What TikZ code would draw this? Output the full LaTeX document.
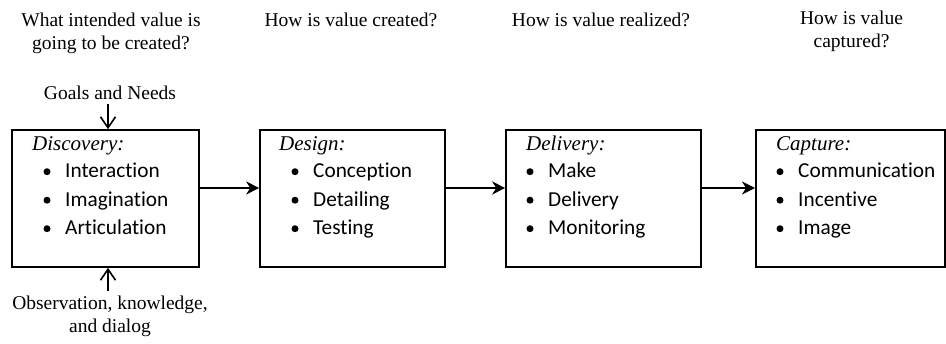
\documentclass[tikz,border=0pt]{standalone}
\usepackage{fontspec}
\setmainfont{Liberation Serif}
\newfontfamily\calib[RawFeature={-liga,-dlig,-clig}]{Carlito}
\usetikzlibrary{arrows.meta}
\tikzset{
  box/.style={draw, line width=1.6pt, inner sep=0pt, minimum height=137pt},
  harrow/.style={line width=1.6pt, -{Stealth[length=13pt,width=13pt,inset=4pt]}},
  varrow/.style={line width=1.6pt, -{Straight Barb[length=11pt,width=15pt,line width=1.6pt]}},
  qtext/.style={font=\fontsize{19.5}{23.5}\selectfont, align=center, inner sep=0pt, anchor=base},
  ttl/.style={font=\fontsize{21}{24}\selectfont\itshape, inner sep=0pt, anchor=base west},
  itm/.style={font=\calib\fontsize{21.3}{24}\selectfont, inner sep=0pt, anchor=base west},
  bul/.style={circle, fill, inner sep=0pt, minimum size=7pt},
}
\begin{document}
\begin{tikzpicture}[x=1pt,y=-1pt]
\useasboundingbox (0,0) rectangle (946,344);
% boxes
\node[box, minimum width=187pt] (b1) at (105.5,198.5) {};
\node[box, minimum width=185pt] (b2) at (352.5,198.5) {};
\node[box, minimum width=195pt] (b3) at (603.5,198.5) {};
\node[box, minimum width=189pt] (b4) at (850.3,198.5) {};
% questions
\node[qtext] (q1a) at (111,27) {What intended value is};
\node[qtext] (q1b) at (111,50) {going to be created?};
\node[qtext] (q2) at (351,27) {How is value created?};
\node[qtext] (q3) at (601,27) {How is value realized?};
\node[qtext] (q4a) at (851.5,25) {How is value};
\node[qtext] (q4b) at (851.5,48) {captured?};
% box 1
\node[ttl] (t1) at (32,151) {Discovery:};
\node[bul] (p11) at (47,171.7) {};   \node[itm] (i11) at (65,178) {Interaction};
\node[bul] (p12) at (47,200.2) {};   \node[itm] (i12) at (65,206.5) {Imagination};
\node[bul] (p13) at (47,228.7) {};   \node[itm] (i13) at (65,235) {Articulation};
% box 2
\node[ttl] (t2) at (279,151) {Design:};
\node[bul] (p21) at (295,171.7) {};  \node[itm] (i21) at (313,178) {Conception};
\node[bul] (p22) at (295,200.2) {};  \node[itm] (i22) at (313,206.5) {Detailing};
\node[bul] (p23) at (295,228.7) {};  \node[itm] (i23) at (313,235) {Testing};
% box 3
\node[ttl] (t3) at (526,151) {Delivery:};
\node[bul] (p31) at (530,171.7) {};  \node[itm] (i31) at (548,178) {Make};
\node[bul] (p32) at (530,200.2) {};  \node[itm] (i32) at (548,206.5) {Delivery};
\node[bul] (p33) at (530,228.7) {};  \node[itm] (i33) at (548,235) {Monitoring};
% box 4
\node[ttl] (t4) at (776,151) {Capture:};
\node[bul] (p41) at (780,171.7) {};  \node[itm] (i41) at (798,178) {Communication};
\node[bul] (p42) at (780,200.2) {};  \node[itm] (i42) at (798,206.5) {Incentive};
\node[bul] (p43) at (780,228.7) {};  \node[itm] (i43) at (798,235) {Image};
% inputs
\node[qtext] (goals) at (110,100) {Goals and Needs};
\node[qtext] (obs1) at (110,310) {Observation, knowledge,};
\node[qtext] (obs2) at (110,333) {and dialog};
\coordinate (gs) at (108,104);
\coordinate (os) at (108,291);
% connectors
\draw[varrow] (gs) -- (gs |- b1.north);
\draw[varrow] (os) -- (os |- b1.south);
\draw[harrow] ([yshift=10.5pt]b1.east) -- ([yshift=10.5pt]b2.west);
\draw[harrow] ([yshift=10.5pt]b2.east) -- ([yshift=10.5pt]b3.west);
\draw[harrow] ([yshift=10.5pt]b3.east) -- ([yshift=10.5pt]b4.west);
\end{tikzpicture}
\end{document}
